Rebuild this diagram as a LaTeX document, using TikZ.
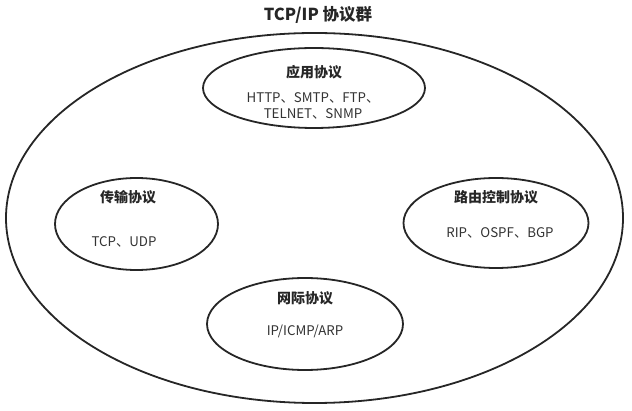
\documentclass[tikz,border=0pt]{standalone}
\usepackage{fontspec}
\setmainfont{Noto Sans CJK SC}
\begin{document}
\begin{tikzpicture}[x=1pt,y=-1pt,
  ring/.style={draw=black!85,line width=1.8pt},
  grouptitle/.style={font=\fontsize{14}{16}\selectfont\bfseries,text=black!85},
  grouptext/.style={font=\fontsize{13.3}{15.5}\selectfont,text=black!80,align=center}]
  \useasboundingbox (0,0) rectangle (632,411);
  % overall family
  \node[font=\fontsize{16.5}{20}\selectfont\bfseries,text=black!85] (title) at (318,15) {TCP/IP 协议群};
  \draw[ring] (314.5,218) ellipse [x radius=308.5,y radius=185];
  % application layer
  \draw[ring] (314,88) ellipse [x radius=111,y radius=40];
  \node[grouptitle] (apph) at (314,72) {应用协议};
  \node[grouptext] (appt) at (313,106) {HTTP、SMTP、FTP、\\TELNET、SNMP};
  % transport layer
  \draw[ring] (136.5,224) ellipse [x radius=81.5,y radius=46];
  \node[grouptitle] (tph) at (128,197) {传输协议};
  \node[grouptext] (tpt) at (124,242) {TCP、UDP};
  % routing control
  \draw[ring] (496,223) ellipse [x radius=92.5,y radius=45];
  \node[grouptitle] (rth) at (496,197) {路由控制协议};
  \node[grouptext] (rtt) at (500,233) {RIP、OSPF、BGP};
  % internet layer
  \draw[ring] (305,324) ellipse [x radius=98,y radius=46];
  \node[grouptitle] (nth) at (305,298) {网际协议};
  \node[grouptext] (ntt) at (305,331) {IP/ICMP/ARP};
\end{tikzpicture}
\end{document}
